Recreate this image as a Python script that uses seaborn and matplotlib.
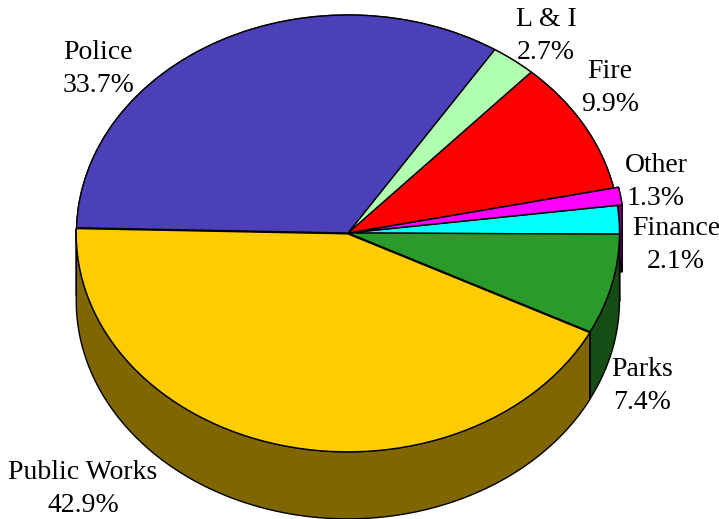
import numpy as np
import matplotlib
matplotlib.use("Agg")
import matplotlib.pyplot as plt
import seaborn as sns

categories = ["Finance", "Other", "Fire", "L & I", "Police", "Public Works", "Parks"]
values = [2.1, 1.3, 9.9, 2.7, 33.7, 42.9, 7.4]
top_colors = ["#00FFFF", "#FF00FF", "#FF0000", "#B0FFB0", "#4B40B8", "#FFCC00", "#2A9A2A"]
explode = [0, 0.018, 0, 0, 0, 0.004, 0]

# label centres in pixels
label_px = {"Finance": (676, 245), "Other": (656, 182), "Fire": (610, 88), "L & I": (546, 36),
            "Police": (98, 69), "Public Works": (83, 489), "Parks": (642, 386)}

W, H = 719, 519
CX, CY, RX, RY, DEPTH = 348, 233, 271.5, 218, 67

sns.set_theme(style="white")
plt.rcParams["font.family"] = ["Liberation Serif", "DejaVu Serif"]
palette = sns.color_palette(top_colors)

fig = plt.figure(figsize=(W / 100, H / 100), dpi=100)
ax = fig.add_axes([0, 0, 1, 1])
wedges, _ = ax.pie(values, colors=palette, explode=explode, startangle=-0.3, counterclock=True,
                   wedgeprops=dict(edgecolor="black", linewidth=1.0, zorder=10))
ax.set_aspect("auto")
ax.set_xlim(-CX / RX, (W - CX) / RX)
ax.set_ylim((CY - H) / RY, CY / RY)
ax.axis("off")

d = DEPTH / RY
shade = [tuple(0.5 * c for c in col) for col in palette]
face_order = [5, 4, 3, 2, 1, 0, 6]
arc_order = [4, 3, 2, 1, 0, 6, 5]
for n, i in enumerate(face_order):
    w = wedges[i]
    cx, cy = w.center
    for ang in (w.theta1, w.theta2):
        xe, ye = cx + np.cos(np.radians(ang)), cy + np.sin(np.radians(ang))
        ax.fill([cx, xe, xe, cx], [cy, ye, ye - d, cy - d],
                facecolor=shade[i], edgecolor="black", linewidth=1.0, zorder=1 + n * 0.1)
for n, i in enumerate(arc_order):
    w = wedges[i]
    cx, cy = w.center
    t = np.radians(np.linspace(w.theta1, w.theta2, 200))
    ax_x, ax_y = cx + np.cos(t), cy + np.sin(t)
    ax.fill(np.r_[ax_x, ax_x[::-1]], np.r_[ax_y, ax_y[::-1] - d],
            facecolor=shade[i], edgecolor="black", linewidth=1.0, zorder=3 + n * 0.1)

for name, val in zip(categories, values):
    px, py = label_px[name]
    fig.text(px / W, 1 - py / H, f"{name}\n{val:.1f}%", ha="center", va="center",
             fontsize=20, color="black", linespacing=1.38)

fig.savefig("out.png", dpi=100, facecolor="white")
